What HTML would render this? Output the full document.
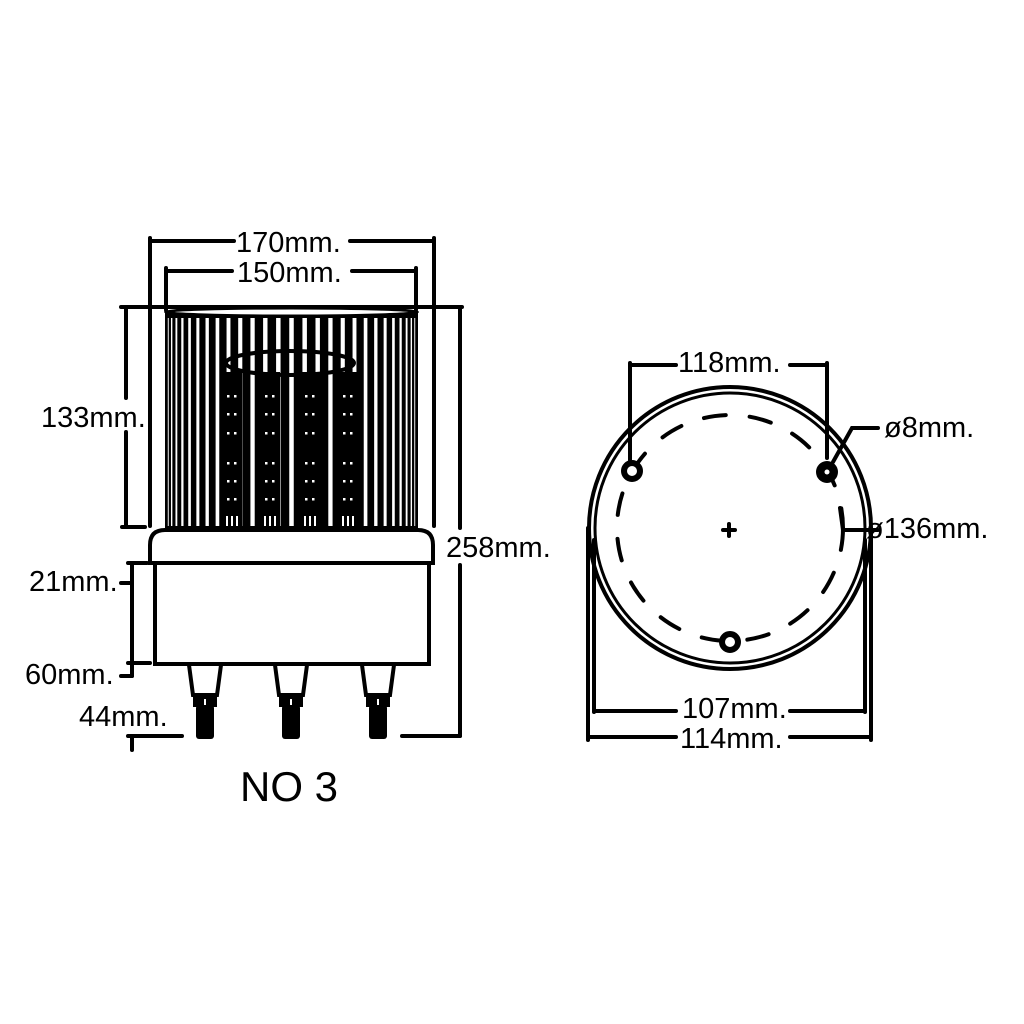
<!DOCTYPE html>
<html><head><meta charset="utf-8"><style>
html,body{margin:0;padding:0;background:#fff}
svg{display:block}
text{font-family:"Liberation Sans",sans-serif;fill:#000}
</style></head><body>
<svg id="s" width="1024" height="1024" viewBox="0 0 1024 1024" xmlns="http://www.w3.org/2000/svg">
<g id="lens"></g>
<g stroke="#000" stroke-width="4" fill="none" stroke-linecap="round">
 <line x1="150" y1="241" x2="234" y2="241"/><line x1="350" y1="241" x2="434" y2="241"/>
 <line x1="150" y1="238" x2="150" y2="526"/><line x1="434" y1="238" x2="434" y2="526"/>
 <line x1="166" y1="271" x2="232" y2="271"/><line x1="352" y1="271" x2="416" y2="271"/>
 <line x1="166" y1="268" x2="166" y2="310"/><line x1="416" y1="268" x2="416" y2="310"/>
 <line x1="121" y1="307" x2="462" y2="307"/>
 <line x1="126" y1="307" x2="126" y2="398"/><line x1="126" y1="432" x2="126" y2="526"/>
 <line x1="122" y1="527" x2="145" y2="527"/>
 <line x1="460" y1="307" x2="460" y2="528"/><line x1="460" y1="565" x2="460" y2="736"/>
 <line x1="402" y1="736" x2="460" y2="736"/>
 <line x1="132" y1="563" x2="132" y2="666"/>
 <line x1="128" y1="563" x2="147" y2="563"/><line x1="128" y1="663" x2="150" y2="663"/>
 <line x1="121" y1="583" x2="132" y2="583"/><line x1="121" y1="676" x2="132" y2="676"/><line x1="132" y1="666" x2="132" y2="676"/>
 <line x1="128" y1="736" x2="182" y2="736"/><line x1="132" y1="736" x2="132" y2="750"/>
 <path d="M150 563 L150 545 Q150 530 165 530 L418 530 Q433 530 433 545 L433 563 Z"/>
 <rect x="155" y="563" width="274" height="101"/>
</g>
<g id="terms"></g>
<text x="240" y="801" font-size="42">NO 3</text>
<g font-size="29">
 <text x="236" y="252">170mm.</text>
 <text x="237" y="282">150mm.</text>
 <text x="41" y="427">133mm.</text>
 <text x="29" y="591">21mm.</text>
 <text x="25" y="684">60mm.</text>
 <text x="79" y="726">44mm.</text>
 <text x="446" y="557">258mm.</text>
 <text x="678" y="372">118mm.</text>
 <text x="884" y="437">ø8mm.</text>
 <text x="866" y="538">ø136mm.</text>
 <text x="682" y="718">107mm.</text>
 <text x="680" y="748">114mm.</text>
</g>
<g stroke="#000" stroke-width="4" fill="none" stroke-linecap="round">
 <circle cx="730" cy="528" r="141"/>
 <circle cx="730" cy="528" r="135" stroke-width="3"/>
 <circle cx="730" cy="528" r="113" stroke-dasharray="22 24"/>
 <line x1="588" y1="528" x2="588" y2="740"/><line x1="871" y1="528" x2="871" y2="740"/>
 <line x1="594" y1="540" x2="594" y2="712"/><line x1="865" y1="540" x2="865" y2="712"/>
 <line x1="594" y1="711" x2="676" y2="711"/><line x1="790" y1="711" x2="865" y2="711"/>
 <line x1="588" y1="737" x2="676" y2="737"/><line x1="790" y1="737" x2="871" y2="737"/>
 <line x1="630" y1="365" x2="676" y2="365"/><line x1="790" y1="365" x2="827" y2="365"/>
 <line x1="630" y1="363" x2="630" y2="460"/><line x1="827" y1="363" x2="827" y2="458"/>
 <path d="M833 462 L852 428 L878 428"/>
 <path d="M840 508 L843 530 L878 530"/>
 <line x1="723" y1="530" x2="735" y2="530"/><line x1="729" y1="524" x2="729" y2="536"/>
</g>
<g fill="#fff" stroke="#000" stroke-width="6">
 <circle cx="632" cy="471" r="8"/><circle cx="730" cy="642" r="8"/>
</g>
<circle cx="827" cy="472" r="11" fill="#000"/><circle cx="827" cy="472" r="2.5" fill="#fff"/>
</svg>
<script>
var NS="http://www.w3.org/2000/svg";
function el(p,t,a){var e=document.createElementNS(NS,t);for(var k in a)e.setAttribute(k,a[k]);p.appendChild(e);return e;}
var L=document.getElementById("lens");
el(L,"rect",{x:165,y:312,width:253,height:216,fill:"#000"});
var N=30,cx=291.5,R=126;
for(var i=1;i<N;i++){var a=Math.PI*i/N;var x=cx-R*Math.cos(a);var w=4.5*Math.sin(a);
 if(w>0.6)el(L,"rect",{x:x-w/2,y:318,width:w,height:208,fill:"#fff"});}
var cols=[222,260,300,338];
cols.forEach(function(c){el(L,"rect",{x:c,y:372,width:20,height:156,fill:"#000"});
 [395,413,432,462,480,498].forEach(function(y){el(L,"rect",{x:c+5,y:y,width:2.5,height:2.5,fill:"#fff"});el(L,"rect",{x:c+12,y:y,width:2.5,height:2.5,fill:"#fff"});});
 [c+4,c+9,c+14].forEach(function(x){el(L,"rect",{x:x,y:516,width:2,height:10,fill:"#fff"});});});
el(L,"ellipse",{cx:290,cy:363,rx:64,ry:12,fill:"none",stroke:"#000","stroke-width":4});
el(L,"ellipse",{cx:291.5,cy:312,rx:126,ry:4,fill:"#fff",stroke:"#000","stroke-width":3});
var T=document.getElementById("terms");
[205,291,378].forEach(function(c){
 el(T,"path",{d:"M"+(c-16)+" 665 L"+(c-12)+" 695 L"+(c+12)+" 695 L"+(c+16)+" 665",fill:"none",stroke:"#000","stroke-width":4});
 el(T,"rect",{x:c-12,y:695,width:24,height:12,fill:"#000"});
 el(T,"rect",{x:c-9,y:705,width:18,height:34,rx:3,fill:"#000"});
 el(T,"rect",{x:c-1,y:699,width:2,height:6,fill:"#fff"});});
</script>
</body></html>
